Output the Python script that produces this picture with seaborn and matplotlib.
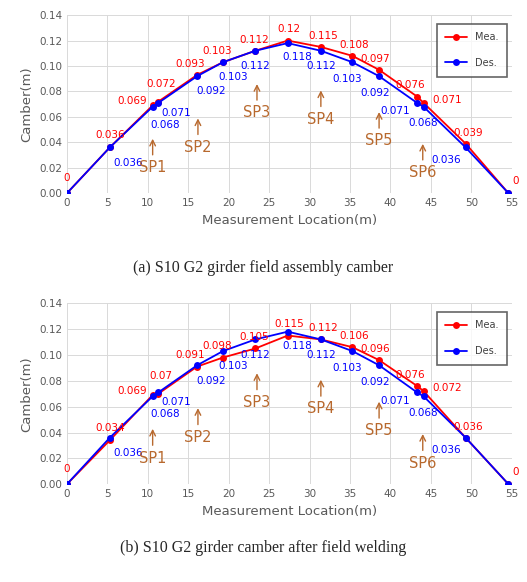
import matplotlib
matplotlib.use("Agg")
import matplotlib.pyplot as plt
import seaborn as sns
import pandas as pd

# measurement locations (m)
locations = [0, 5.3, 10.6, 11.3, 16.1, 19.3, 23.3, 27.3, 31.4, 35.3, 38.6, 43.3, 44.1, 49.3, 54.6]
design = [0, 0.036, 0.068, 0.071, 0.092, 0.103, 0.112, 0.118, 0.112, 0.103, 0.092, 0.071, 0.068, 0.036, 0]
measured_a = [0, 0.036, 0.069, 0.072, 0.093, 0.103, 0.112, 0.12, 0.115, 0.108, 0.097, 0.076, 0.071, 0.039, 0]
measured_b = [0, 0.034, 0.069, 0.07, 0.091, 0.098, 0.105, 0.115, 0.112, 0.106, 0.096, 0.076, 0.072, 0.036, 0]

support_names = ["SP1", "SP2", "SP3", "SP4", "SP5", "SP6"]
support_x = [10.6, 16.2, 23.5, 31.4, 38.6, 44.0]
support_y = [0.028, 0.044, 0.071, 0.066, 0.049, 0.024]

captions = ["(a) S10 G2 girder field assembly camber",
            "(b) S10 G2 girder camber after field welding"]

# label offsets in points
mea_off = [(0, 11), (0, 9), (-15, 3), (2, 13), (-5, 8), (-4, 8), (-1, 8), (1, 8), (2, 8),
           (1, 8), (-3, 8), (-5, 8), (17, 2), (2, 8), (5, 9)]
des_off = [None, (13, -11), (9, -13), (13, -7), (10, -11), (7, -11), (0, -11), (7, -10), (0, -11),
           (-4, -12), (-3, -12), (-16, -6), (0, -12), (-14, -9), None]

RED = "#ff0000"
BLUE = "#0000ff"
BROWN = "#b8692e"

sns.set_style("white")
plt.rcParams["font.family"] = ["DejaVu Sans"]

fig = plt.figure(figsize=(5.27, 5.82), dpi=100)
axes = [fig.add_axes([0.127, 0.668, 0.844, 0.306]),
        fig.add_axes([0.127, 0.168, 0.844, 0.311])]

for ax, mea, cap, cap_y in zip(axes, [measured_a, measured_b], captions, [0.54, 0.058]):
    df = pd.DataFrame({"x": locations * 2, "y": mea + design,
                       "kind": ["Mea."] * len(mea) + ["Des."] * len(design)})
    sns.lineplot(data=df, x="x", y="y", hue="kind", palette={"Mea.": RED, "Des.": BLUE},
                 marker="o", markersize=5, markeredgewidth=0, linewidth=1.3, ax=ax, sort=False)
    ax.set_xlim(0, 55)
    ax.set_ylim(0, 0.14)
    ax.set_xticks(range(0, 56, 5))
    ax.set_yticks([i * 0.02 for i in range(8)])
    ax.set_yticklabels([f"{i * 0.02:.2f}" for i in range(8)])
    ax.tick_params(labelsize=7.5, colors="#595959", length=0)
    ax.grid(True, color="#d9d9d9", linewidth=0.7)
    for s in ax.spines.values():
        s.set_visible(False)
    ax.set_xlabel("Measurement Location(m)", fontsize=9.5, color="#595959")
    ax.set_ylabel("Camber(m)", fontsize=9.5, color="#595959")

    for x, v, off in zip(locations, mea, mea_off):
        ax.annotate(f"{v:g}", (x, v), xytext=off, textcoords="offset points",
                    ha="center", va="center", fontsize=7.5, color=RED)
    for x, v, off in zip(locations, design, des_off):
        if off is None:
            continue
        ax.annotate(f"{v:g}", (x, v), xytext=off, textcoords="offset points",
                    ha="center", va="center", fontsize=7.5, color=BLUE)

    for name, sx, sy in zip(support_names, support_x, support_y):
        ax.annotate("", xy=(sx, sy + 0.017), xytext=(sx, sy),
                    arrowprops=dict(arrowstyle="->", color=BROWN, lw=1))
        ax.text(sx, sy - 0.002, name, ha="center", va="top", fontsize=10.5, color=BROWN)

    leg = ax.legend(loc="upper right", fontsize=7, frameon=True, fancybox=False,
                    edgecolor="#404040", borderpad=0.9, labelspacing=1.6, handlelength=2.2,
                    bbox_to_anchor=(1.0, 0.98))
    leg.get_frame().set_linewidth(1.2)
    for t in leg.get_texts():
        t.set_color("#404040")
    leg.set_title(None)

    fig.text(0.5, cap_y, cap, ha="center", va="center", fontsize=11.5,
             family=["Liberation Serif", "DejaVu Serif"])

fig.savefig("out.png", dpi=100)
